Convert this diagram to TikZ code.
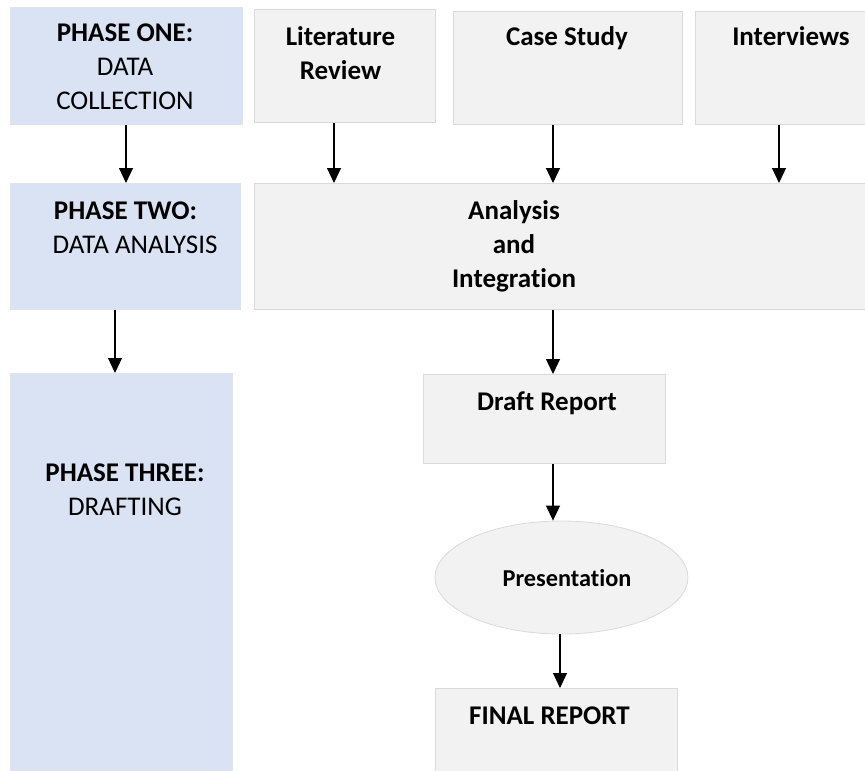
\documentclass[tikz,border=0pt]{standalone}
\usepackage{fontspec}
\setmainfont[Ligatures=NoCommon]{Carlito}
\usetikzlibrary{arrows.meta,shapes.geometric}
\definecolor{boxfill}{HTML}{F2F2F2}
\definecolor{boxline}{HTML}{DADADA}
\definecolor{phasefill}{HTML}{DAE3F3}
\definecolor{phaseline}{HTML}{DDE3EC}
\begin{document}
\begin{tikzpicture}[x=1pt,y=-1pt,
  box/.style={draw=boxline,fill=boxfill,line width=0.8pt,rectangle,inner sep=0pt,anchor=north west},
  phasebox/.style={draw=phaseline,fill=phasefill,line width=0.8pt,rectangle,inner sep=0pt,anchor=north west},
  oval/.style={draw=boxline,fill=boxfill,line width=0.8pt,ellipse,inner sep=0pt},
  txt/.style={font=\fontsize{27}{34}\selectfont,align=center,inner sep=0pt,anchor=base},
  arr/.style={line width=1.2pt,-{Triangle[width=14pt,length=15pt]}}]
\useasboundingbox (0,0) rectangle (865,771);
% boxes
\node[phasebox,minimum width=232pt,minimum height=117pt] (p1) at (10,7) {};
\node[box,minimum width=181pt,minimum height=113pt] (lit) at (254,9) {};
\node[box,minimum width=229pt,minimum height=113pt] (cs) at (453,11) {};
\node[box,minimum width=200pt,minimum height=113pt] (int) at (695,11) {};
\node[phasebox,minimum width=230pt,minimum height=126pt] (p2) at (10,183) {};
\node[box,minimum width=640pt,minimum height=126pt] (ana) at (254,183) {};
\node[phasebox,minimum width=222pt,minimum height=420pt] (p3) at (10,373) {};
\node[box,minimum width=242pt,minimum height=89pt] (draft) at (423,374) {};
\node[oval,minimum width=253pt,minimum height=113pt] (pres) at (561.5,577.5) {};
\node[box,minimum width=242pt,minimum height=120pt] (final) at (435,688) {};
% texts (anchor = baseline of last line)
\node[txt] (t1) at (125,109.5) {\textbf{PHASE ONE:}\\DATA\\COLLECTION};
\node[txt] (t2) at (340.5,79.5) {\textbf{Literature}\\\textbf{Review}};
\node[txt] (t3) at (567,45.5) {\textbf{Case Study}};
\node[txt] (t4) at (791,45.5) {\textbf{Interviews}};
\node[txt] (t5) at (125.5,253.3) {\textbf{PHASE TWO:}\\\hspace*{19pt}DATA ANALYSIS};
\node[txt] (t6) at (514,287) {\textbf{Analysis}\\\textbf{and}\\\textbf{Integration}};
\node[txt] (t7) at (125,515) {\textbf{PHASE THREE:}\\DRAFTING};
\node[txt] (t8) at (547,410.7) {\textbf{Draft Report}};
\node[txt,font=\fontsize{24.3}{30}\selectfont] (t9) at (567,586) {\textbf{Presentation}};
\node[txt] (t10) at (549.5,724) {\textbf{FINAL REPORT}};
% arrows
\draw[arr] (p1.south -| 126,0) -- (p2.north -| 126,0);
\draw[arr] (lit.south -| 334,0) -- (ana.north -| 334,0);
\draw[arr] (cs.south -| 553,0) -- (ana.north -| 553,0);
\draw[arr] (int.south -| 779,0) -- (ana.north -| 779,0);
\draw[arr] (p2.south -| 115,0) -- (p3.north -| 115,0);
\draw[arr] (ana.south -| 553,0) -- (draft.north -| 553,0);
\draw[arr] (draft.south -| 553,0) -- (pres.north -| 553,0);
\draw[arr] (pres.south -| 560,0) -- (final.north -| 560,0);
\end{tikzpicture}
\end{document}
